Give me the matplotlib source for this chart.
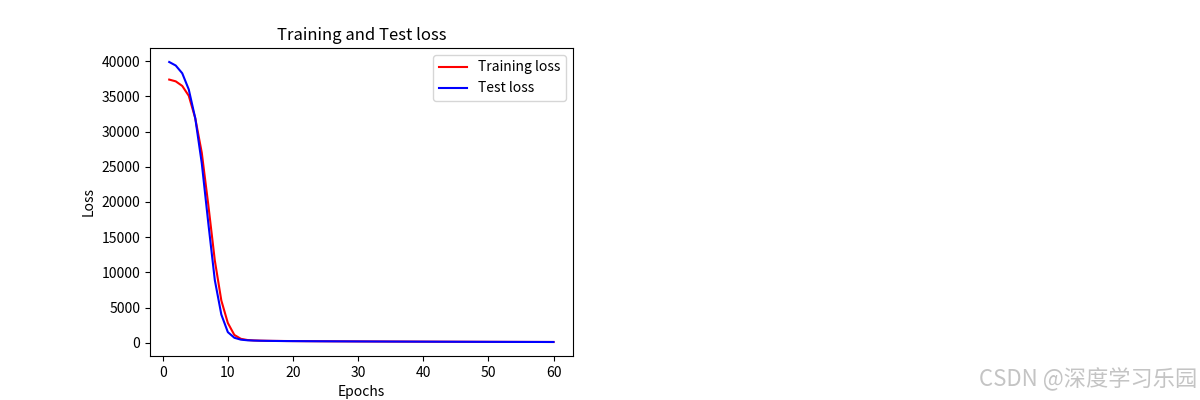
import matplotlib
matplotlib.use('Agg')
import matplotlib.pyplot as plt

plt.rcParams['font.family'] = ['Noto Sans CJK SC', 'DejaVu Sans']

# loss per epoch
epochs = list(range(1, 61))
train_loss = [37400, 37150, 36500, 35100, 31900, 27000, 19600, 11700, 6000, 2800,
              1100, 550, 380, 320, 290, 270, 255, 245, 235, 228,
              222, 216, 211, 206, 202, 198, 194, 190, 186, 182,
              178, 175, 171, 168, 164, 161, 158, 155, 152, 149,
              146, 143, 140, 137, 134, 132, 129, 126, 124, 121,
              119, 116, 114, 112, 110, 107, 105, 103, 101, 99]
test_loss = [39900, 39400, 38300, 36000, 31900, 25500, 17000, 8900, 4000, 1500,
             700, 430, 340, 300, 275, 260, 248, 238, 230, 223,
             217, 211, 206, 201, 197, 193, 189, 185, 181, 177,
             174, 170, 167, 164, 160, 157, 154, 151, 148, 145,
             142, 139, 136, 134, 131, 128, 126, 123, 121, 118,
             116, 114, 111, 109, 107, 105, 103, 101, 99, 97]

fig = plt.figure(figsize=(12, 4), dpi=100)
plt.subplot(1, 2, 1)
plt.plot(epochs, train_loss, 'r', label='Training loss')
plt.plot(epochs, test_loss, 'b', label='Test loss')
plt.title('Training and Test loss')
plt.xlabel('Epochs')
plt.ylabel('Loss')
plt.legend()

# watermark
fig.text(0.998, 0.022, 'CSDN @深度学习乐园', ha='right', va='bottom',
         fontsize=16, color='#c4c4c4')

plt.savefig('out.png')
